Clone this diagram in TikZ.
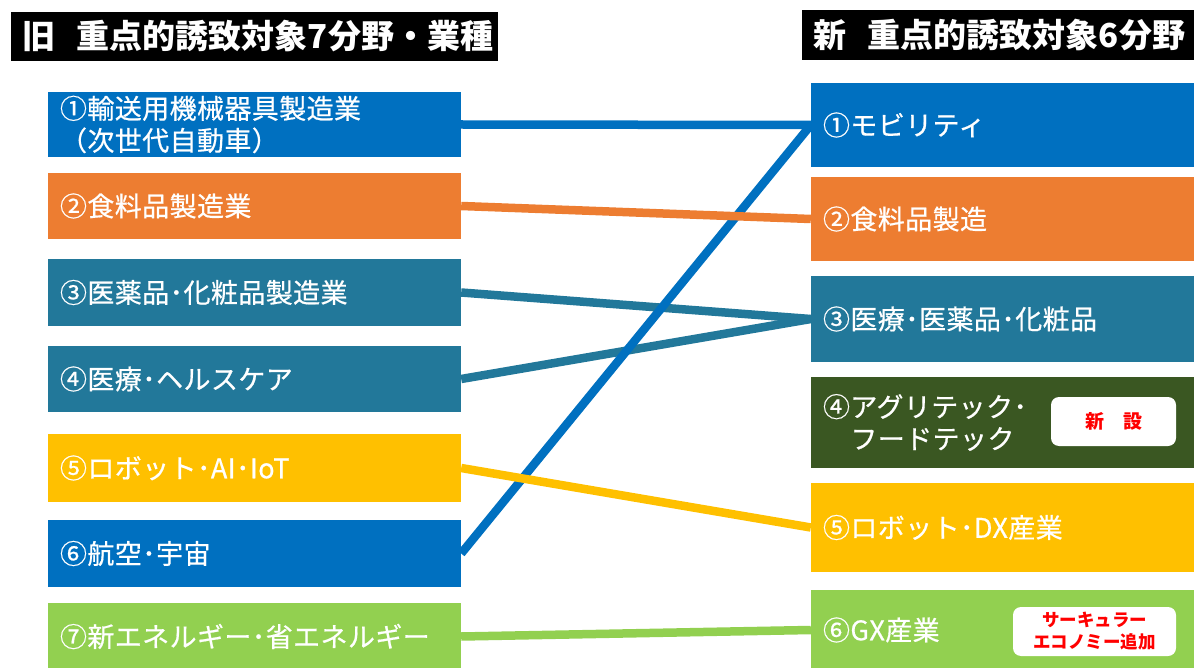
\documentclass[tikz,border=0pt]{standalone}
\usepackage{fontspec}
\newfontfamily\jp{Noto Sans CJK JP}
\newfontfamily\jpm{Noto Sans CJK JP}[FakeBold=0.6, LetterSpace=1.5]
\usetikzlibrary{backgrounds}
\definecolor{cblue}{HTML}{0070C0}
\definecolor{corange}{HTML}{ED7D31}
\definecolor{cteal}{HTML}{22789A}
\definecolor{cyellow}{HTML}{FFC000}
\definecolor{cdgreen}{HTML}{3A5722}
\definecolor{cgreen}{HTML}{92D050}
\definecolor{cred}{HTML}{FF0000}
\begin{document}
\begin{tikzpicture}[x=1pt,y=-1pt]
\useasboundingbox (0,0) rectangle (1194,668);
\tikzset{
  base/.style={inner ysep=0pt, inner xsep=12pt, text=white, align=left, anchor=center,
    font=\jpm\fontsize{27}{32}\selectfont},
  lbox/.style={base, text width=389pt, minimum height=#1},
  rbox/.style={base, text width=359pt, minimum height=#1},
  titlebox/.style={fill=black, text=white, inner ysep=0pt, inner xsep=11pt,
    font=\jp\bfseries\fontsize{33}{38}\selectfont},
  conn/.style={line width=8.5pt},
  badge/.style={fill=white, rounded corners=8pt, text=cred, align=center, inner sep=0pt}
}
% titles
\node[titlebox, minimum height=49pt] (tl) at (254.5,36.5) {\makebox[465pt][l]{旧\hspace{22pt}重点的誘致対象7分野・業種}};
\node[titlebox, minimum height=50pt] (tr) at (998,35) {\makebox[370pt][l]{新\hspace{22pt}重点的誘致対象6分野}};
% left boxes
\node[lbox=65pt, fill=cblue] (l1) at (254.5,124.5) {①輸送用機械器具製造業\\（次世代自動車）};
\node[lbox=66pt, fill=corange] (l2) at (254.5,206) {②食料品製造業};
\node[lbox=67pt, fill=cteal] (l3) at (254.5,292.5) {③医薬品･化粧品製造業};
\node[lbox=66pt, fill=cteal] (l4) at (254.5,379) {④医療･ヘルスケア};
\node[lbox=68pt, fill=cyellow] (l5) at (254.5,468) {⑤ロボット･AI･IoT};
\node[lbox=67pt, fill=cblue] (l6) at (254.5,553.5) {⑥航空･宇宙};
\node[lbox=67pt, fill=cgreen] (l7) at (254.5,636.5) {⑦新エネルギー･省エネルギー};
% right boxes
\node[rbox=84pt, fill=cblue] (r1) at (1002.5,125) {①モビリティ};
\node[rbox=84pt, fill=corange] (r2) at (1002.5,219) {②食料品製造};
\node[rbox=86pt, fill=cteal] (r3) at (1002.5,319) {③医療･医薬品･化粧品};
\node[rbox=91pt, fill=cdgreen] (r4) at (1002.5,422.5) {④アグリテック･\\　フードテック};
\node[rbox=89pt, fill=cyellow] (r5) at (1002.5,527.5) {⑤ロボット･DX産業};
\node[rbox=80pt, fill=cgreen] (r6) at (1002.5,630) {⑥GX産業};
% badges
\node[badge, minimum width=125pt, minimum height=49pt, font=\jp\bfseries\fontsize{19}{22}\selectfont] (b1) at (1113.5,421.5) {新　設};
\node[badge, minimum width=163pt, minimum height=49pt, font=\jp\bfseries\fontsize{17.5}{22}\selectfont] (b2) at (1094.5,631.5) {サーキュラー\\エコノミー追加};
% connectors
\begin{scope}[on background layer]
\draw[conn, cteal] (l3.east) -- (r3.west);
\draw[conn, cteal] (l4.east) -- (r3.west);
\draw[conn, cblue] (l1.east) -- (r1.west);
\draw[conn, cblue] (l6.east) -- (r1.west);
\draw[conn, cyellow] (l5.east) -- (r5.west);
\draw[conn, corange] (l2.east) -- (r2.west);
\draw[conn, cgreen] (l7.east) -- (r6.west);
\end{scope}
\end{tikzpicture}
\end{document}
